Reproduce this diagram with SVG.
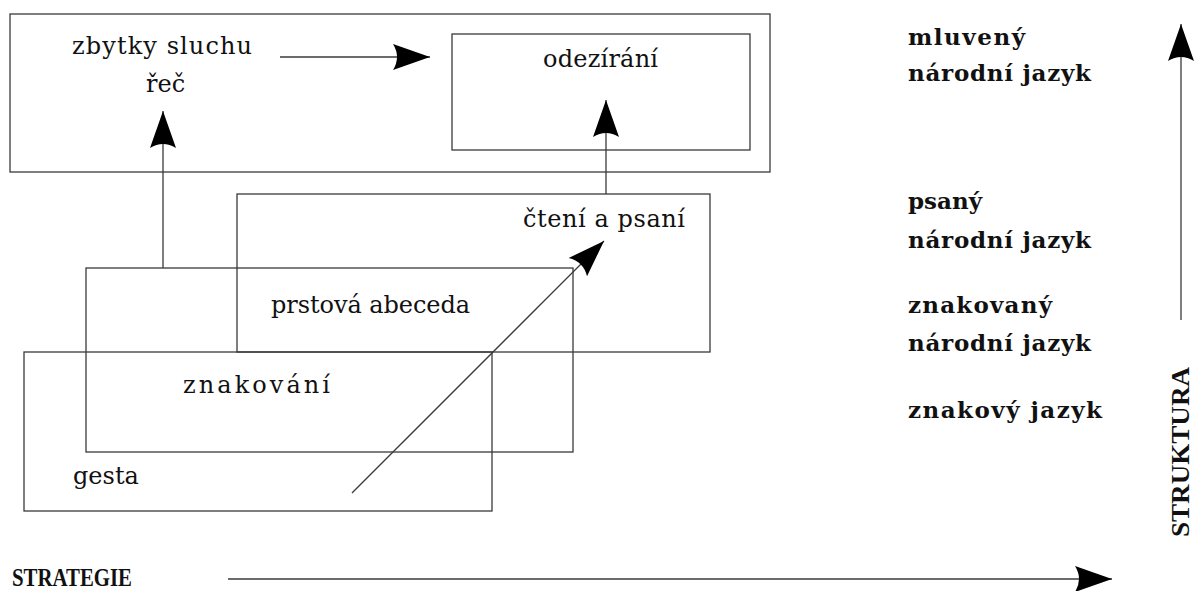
<svg xmlns="http://www.w3.org/2000/svg" width="1194" height="591" viewBox="0 0 1194 591">
  <defs>
    <style>
      .box { fill: none; stroke: #3a3a3a; stroke-width: 1.3; }
      .conn { fill: none; stroke: #3a3a3a; stroke-width: 1.3; }
      .lbl { font-family: "DejaVu Serif", "Liberation Serif", serif; font-size: 24px; fill: #111; }
      .side { font-family: "DejaVu Serif", "Liberation Serif", serif; font-size: 23px; font-weight: bold; fill: #111; }
      .axis { font-family: "Liberation Serif", "DejaVu Serif", serif; font-size: 25px; font-weight: bold; fill: #111; }
    </style>
    <marker id="ah" markerUnits="userSpaceOnUse" markerWidth="40" markerHeight="30" viewBox="-38 -14 40 28" refX="0" refY="0" orient="auto">
      <path d="M0,0 L-37,-13 Q-29,0 -37,13 Z" fill="#000"/>
    </marker>
  </defs>
  <rect width="1194" height="591" fill="#fff"/>

  <g id="node-mluveny">
    <rect class="box" x="10" y="14" width="760" height="158"/>
    <text class="lbl" x="72" y="54" textLength="180" lengthAdjust="spacing">zbytky sluchu</text>
    <text class="lbl" x="146" y="92">řeč</text>
  </g>
  <g id="node-odeziran">
    <rect class="box" x="452" y="34" width="298" height="116"/>
    <text class="lbl" x="543" y="67" textLength="115" lengthAdjust="spacing">odezírání</text>
  </g>
  <g id="node-cteni">
    <rect class="box" x="237" y="194" width="473" height="158"/>
    <text class="lbl" x="523" y="227" textLength="162" lengthAdjust="spacing">čtení a psaní</text>
    <text class="lbl" x="271" y="313" textLength="199" lengthAdjust="spacing">prstová abeceda</text>
  </g>
  <g id="node-znakovani">
    <rect class="box" x="86" y="268" width="487" height="184"/>
    <text class="lbl" x="183" y="393" textLength="147" lengthAdjust="spacing">znakování</text>
  </g>
  <g id="node-gesta">
    <rect class="box" x="24" y="352" width="468" height="159"/>
    <text class="lbl" x="73" y="484">gesta</text>
  </g>

  <g id="labels-right">
    <text class="side" x="908" y="45" textLength="117" lengthAdjust="spacing">mluvený</text>
    <text class="side" x="908" y="81" textLength="183" lengthAdjust="spacing">národní jazyk</text>
    <text class="side" x="908" y="209" textLength="74" lengthAdjust="spacing">psaný</text>
    <text class="side" x="908" y="248" textLength="183" lengthAdjust="spacing">národní jazyk</text>
    <text class="side" x="908" y="313" textLength="144" lengthAdjust="spacing">znakovaný</text>
    <text class="side" x="908" y="351" textLength="183" lengthAdjust="spacing">národní jazyk</text>
    <text class="side" x="908" y="418" textLength="194" lengthAdjust="spacing">znakový jazyk</text>
  </g>

  <g id="axis-labels">
    <text class="axis" x="12" y="586" textLength="120" lengthAdjust="spacingAndGlyphs">STRATEGIE</text>
    <text class="axis" transform="translate(1189,537) rotate(-90)" x="0" y="0" textLength="170" lengthAdjust="spacingAndGlyphs">STRUKTURA</text>
  </g>

  <g id="connectors">
    <line class="conn" x1="280" y1="57" x2="430" y2="57" marker-end="url(#ah)"/>
    <line class="conn" x1="163" y1="268" x2="163" y2="111" marker-end="url(#ah)"/>
    <line class="conn" x1="606" y1="194" x2="606" y2="100" marker-end="url(#ah)"/>
    <line class="conn" x1="352" y1="493" x2="604" y2="241" marker-end="url(#ah)"/>
    <line class="conn" x1="228" y1="579" x2="1112" y2="579" marker-end="url(#ah)"/>
    <line class="conn" x1="1181" y1="320" x2="1181" y2="24" marker-end="url(#ah)"/>
  </g>
</svg>
